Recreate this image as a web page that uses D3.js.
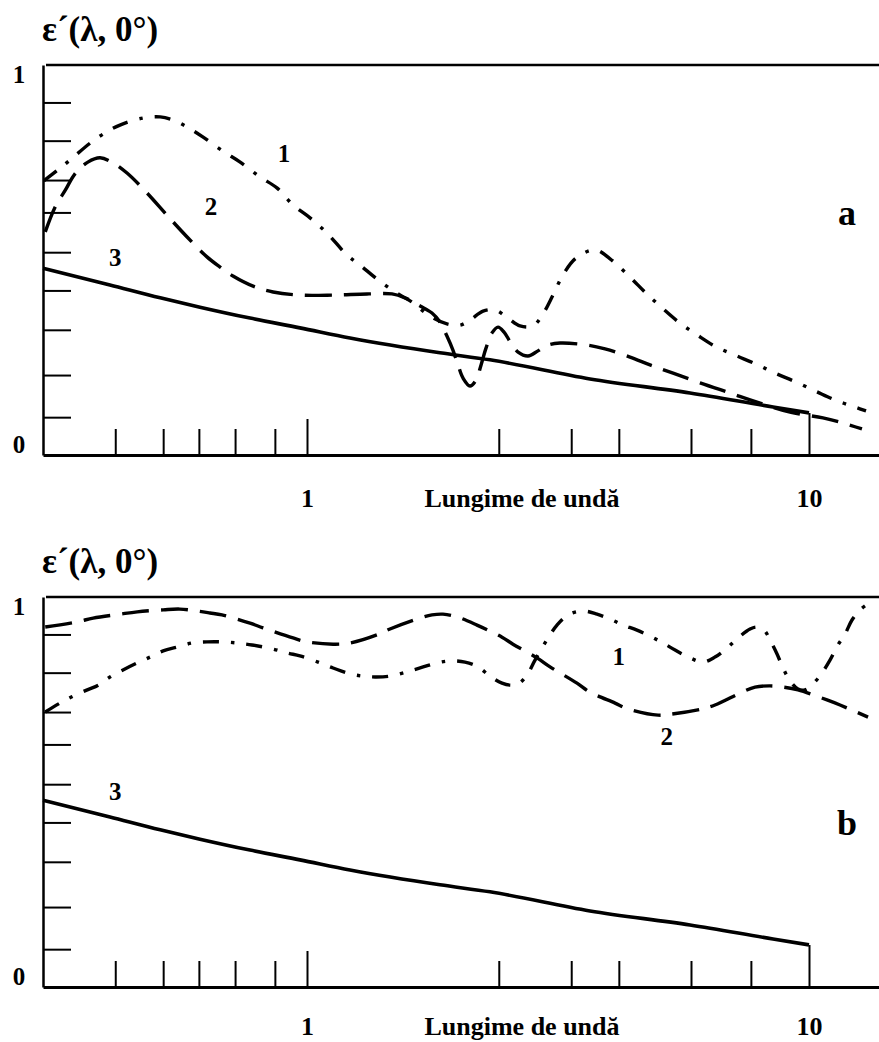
<!DOCTYPE html>
<html>
<head>
<meta charset="utf-8">
<script src="https://cdn.jsdelivr.net/npm/d3@7"></script>
<style>
  body { margin: 0; background: #fff; }
  svg { display: block; }
  text { font-family: "Liberation Serif", "Times New Roman", serif; font-weight: bold; fill: #000; }
</style>
</head>
<body>
<svg id="chart" width="879" height="1042"></svg>
<script>
// Wavelength ticks (log axis) and emissivity ticks
const xTickValues = [0.415, 0.517, 0.609, 0.719, 0.863, 1, 2.41, 3.36, 4.18, 5.82, 7.66, 10];
const xTickLabels = { 1: "1", 10: "10" };
const yTickValues = [0.097, 0.205, 0.321, 0.422, 0.52, 0.622, 0.705, 0.806, 0.904];
const yEndLabels = ["0", "1"];

// Panel a: [wavelength, emissivity]
const aCurve1 = [
  [0.299, 0.703], [0.319, 0.731], [0.337, 0.756], [0.370, 0.800], [0.396, 0.826], [0.424, 0.846],
  [0.471, 0.864], [0.510, 0.867], [0.541, 0.859], [0.577, 0.841], [0.621, 0.815], [0.680, 0.779],
  [0.736, 0.751], [0.806, 0.713], [0.871, 0.685], [0.938, 0.641], [1.014, 0.608], [1.096, 0.569],
  [1.201, 0.513], [1.275, 0.487], [1.385, 0.449], [1.497, 0.418], [1.619, 0.392], [1.758, 0.356],
  [1.900, 0.336], [2.018, 0.333], [2.112, 0.346], [2.242, 0.369], [2.369, 0.372], [2.514, 0.351],
  [2.657, 0.331], [2.820, 0.331], [2.952, 0.362], [3.090, 0.410], [3.236, 0.462], [3.434, 0.505],
  [3.747, 0.526], [4.015, 0.503], [4.400, 0.456], [4.735, 0.415], [5.098, 0.377], [5.534, 0.338],
  [5.984, 0.308], [6.497, 0.279], [7.123, 0.256], [7.844, 0.233], [8.557, 0.210], [9.422, 0.187],
  [10.37, 0.162], [11.27, 0.141], [12.46, 0.121], [12.99, 0.113]
];
const aCurve2 = [
  [0.301, 0.572], [0.315, 0.636], [0.330, 0.679], [0.345, 0.721], [0.366, 0.751], [0.387, 0.762],
  [0.411, 0.749], [0.438, 0.723], [0.480, 0.672], [0.526, 0.615], [0.577, 0.559], [0.632, 0.508],
  [0.671, 0.482], [0.712, 0.459], [0.781, 0.433], [0.856, 0.418], [0.968, 0.410], [1.127, 0.410],
  [1.317, 0.413], [1.477, 0.413], [1.567, 0.403], [1.680, 0.382], [1.774, 0.364], [1.840, 0.341],
  [1.900, 0.305], [1.953, 0.269], [1.999, 0.231], [2.046, 0.197], [2.112, 0.177], [2.171, 0.192],
  [2.222, 0.231], [2.273, 0.274], [2.336, 0.313], [2.402, 0.328], [2.469, 0.315], [2.549, 0.287],
  [2.633, 0.264], [2.756, 0.254], [2.885, 0.267], [3.021, 0.282], [3.192, 0.287], [3.612, 0.282],
  [3.924, 0.272], [4.400, 0.251], [4.823, 0.231], [5.361, 0.210], [6.067, 0.185], [6.961, 0.159],
  [7.989, 0.133], [9.167, 0.110], [10.66, 0.095], [11.69, 0.082], [12.75, 0.067]
];
// Curve 3 is the same in both panels
const curve3 = [
  [0.298, 0.479], [0.405, 0.436], [0.510, 0.403], [0.612, 0.379], [0.770, 0.351], [0.968, 0.326],
  [1.218, 0.300], [1.840, 0.262], [2.315, 0.244], [3.662, 0.195], [5.794, 0.159], [8.479, 0.123],
  [10.0, 0.108]
];

// Panel b
const bCurve1 = [
  [0.301, 0.705], [0.322, 0.728], [0.340, 0.744], [0.365, 0.762], [0.384, 0.774], [0.405, 0.795],
  [0.430, 0.813], [0.459, 0.831], [0.487, 0.846], [0.517, 0.862], [0.553, 0.872], [0.590, 0.882],
  [0.632, 0.885], [0.677, 0.885], [0.726, 0.882], [0.777, 0.877], [0.852, 0.867], [0.917, 0.856],
  [0.968, 0.849], [1.052, 0.833], [1.127, 0.818], [1.218, 0.803], [1.293, 0.797], [1.366, 0.795],
  [1.463, 0.797], [1.582, 0.808], [1.680, 0.818], [1.815, 0.831], [1.927, 0.836], [2.064, 0.833],
  [2.191, 0.821], [2.315, 0.797], [2.446, 0.779], [2.538, 0.774], [2.633, 0.777], [2.743, 0.800],
  [2.846, 0.838], [3.021, 0.895], [3.148, 0.928], [3.311, 0.954], [3.546, 0.964], [3.782, 0.956],
  [4.052, 0.941], [4.262, 0.928], [4.543, 0.915], [4.867, 0.897], [5.121, 0.882], [5.410, 0.864],
  [5.794, 0.844], [6.150, 0.833], [6.497, 0.846], [6.866, 0.869], [7.222, 0.895], [7.631, 0.918],
  [7.880, 0.923], [8.137, 0.915], [8.401, 0.885], [8.636, 0.854], [8.878, 0.818], [9.167, 0.785],
  [9.508, 0.764], [9.818, 0.762], [10.18, 0.777], [10.61, 0.805], [11.01, 0.838], [11.42, 0.877],
  [11.80, 0.905], [12.18, 0.941], [12.64, 0.967], [12.99, 0.979]
];
const bCurve2 = [
  [0.301, 0.923], [0.348, 0.936], [0.375, 0.946], [0.424, 0.956], [0.459, 0.962], [0.517, 0.967],
  [0.558, 0.969], [0.604, 0.964], [0.641, 0.959], [0.677, 0.954], [0.770, 0.933], [0.817, 0.921],
  [0.938, 0.895], [1.0, 0.885], [1.127, 0.879], [1.218, 0.882], [1.379, 0.903], [1.463, 0.918],
  [1.680, 0.946], [1.774, 0.954], [1.866, 0.956], [1.990, 0.949], [2.181, 0.928], [2.446, 0.897],
  [2.572, 0.879], [2.872, 0.844], [3.049, 0.821], [3.450, 0.779], [3.662, 0.756], [4.108, 0.728],
  [4.360, 0.713], [5.005, 0.697], [5.336, 0.700], [6.123, 0.713], [6.497, 0.723], [7.356, 0.756],
  [7.808, 0.769], [8.363, 0.772], [8.878, 0.769], [9.508, 0.762], [10.86, 0.736], [11.53, 0.723],
  [13.11, 0.692]
];

// Curve numbers and panel letters, placed in data units
const aLabels = [
  { text: "1", at: [0.90, 0.751] }, { text: "2", at: [0.644, 0.615] }, { text: "3", at: [0.415, 0.485] }
];
const bLabels = [
  { text: "1", at: [4.18, 0.826] }, { text: "2", at: [5.21, 0.621] }, { text: "3", at: [0.415, 0.479] }
];

const titleText = "ε´(λ, 0°)";
const xAxisTitle = "Lungime de undă";

// ---- layout ----
const left = 43, right = 879, plotH = 390;
const ref = d3.scaleLog().domain([1, 10]).range([307, 809]);
const x = d3.scaleLog().domain([ref.invert(left), ref.invert(right)]).range([left, right]);
const y = d3.scaleLinear().domain([0, 1]).range([plotH, 0]);

const panels = [
  { top: 65, letter: "a", letterAt: [11.9, 0.590], c1: aCurve1, c2: aCurve2, labels: aLabels, xLabelDrop: 52 },
  { top: 597, letter: "b", letterAt: [11.9, 0.390], c1: bCurve1, c2: bCurve2, labels: bLabels, xLabelDrop: 48 }
];

const svg = d3.select("#chart");
const line = d3.line()
  .x(d => x(d[0]))
  .y(d => y(d[1]))
  .curve(d3.curveCatmullRom.alpha(0.5));
const smooth = d3.line()
  .x(d => x(d[0]))
  .y(d => y(d[1]))
  .curve(d3.curveMonotoneX);

panels.forEach(p => {
  const g = svg.append("g").attr("transform", `translate(0,${p.top})`);

  g.append("text")
    .attr("x", left - 1).attr("y", -24)
    .style("font-size", "35px")
    .text(titleText);

  // top frame edge
  g.append("line")
    .attr("x1", left + 3).attr("x2", right)
    .attr("y1", y(1)).attr("y2", y(1))
    .attr("stroke", "#000").attr("stroke-width", 2.5);

  // y axis with inward ticks
  const yAxis = d3.axisLeft(y).tickValues(yTickValues)
    .tickSizeInner(-28).tickSizeOuter(0).tickFormat("");
  const ya = g.append("g").attr("transform", `translate(${left},0)`).call(yAxis);
  ya.select(".domain").attr("stroke", "#000").attr("stroke-width", 2.5);
  ya.selectAll(".tick line").attr("stroke", "#000").attr("stroke-width", 2);

  g.selectAll("text.yend").data(yEndLabels).join("text")
    .attr("class", "yend")
    .attr("x", 19).attr("text-anchor", "middle")
    .attr("y", d => d === "1" ? y(1) + 18 : y(0) - 2)
    .style("font-size", "25px")
    .text(d => d);

  // x axis with inward ticks, labels far below
  const xAxis = d3.axisBottom(x).tickValues(xTickValues)
    .tickSizeInner(-26).tickSizeOuter(0)
    .tickFormat(d => xTickLabels[d] || "");
  const xa = g.append("g").attr("transform", `translate(0,${plotH})`).call(xAxis);
  xa.select(".domain").attr("stroke", "#000").attr("stroke-width", 2.8);
  xa.selectAll(".tick line").attr("stroke", "#000").attr("stroke-width", 2)
    .attr("y2", d => d === 1 ? -36 : d === 10 ? -42 : -26);
  xa.selectAll(".tick text")
    .attr("y", p.xLabelDrop).attr("dy", null)
    .attr("fill", "#000")
    .style("font-size", "26px")
    .style("font-family", "'Liberation Serif', 'Times New Roman', serif")
    .style("font-weight", "bold");

  g.append("text")
    .attr("x", 522).attr("y", plotH + p.xLabelDrop)
    .attr("text-anchor", "middle")
    .style("font-size", "26px")
    .text(xAxisTitle);

  // curves
  g.append("path").datum(curve3).attr("d", smooth)
    .attr("fill", "none").attr("stroke", "#000").attr("stroke-width", 3.6);
  g.append("path").datum(p.c2).attr("d", line)
    .attr("fill", "none").attr("stroke", "#000").attr("stroke-width", 3.4)
    .attr("stroke-dasharray", "27 12");
  g.append("path").datum(p.c1).attr("d", line)
    .attr("fill", "none").attr("stroke", "#000").attr("stroke-width", 3.4)
    .attr("stroke-dasharray", "16 12 3.5 12");

  g.selectAll("text.clabel").data(p.labels).join("text")
    .attr("class", "clabel")
    .attr("x", d => x(d.at[0])).attr("y", d => y(d.at[1]))
    .attr("text-anchor", "middle")
    .style("font-size", "25px")
    .text(d => d.text);

  g.append("text")
    .attr("x", x(p.letterAt[0])).attr("y", y(p.letterAt[1]))
    .attr("text-anchor", "middle")
    .style("font-size", "36px")
    .text(p.letter);
});
</script>
</body>
</html>
